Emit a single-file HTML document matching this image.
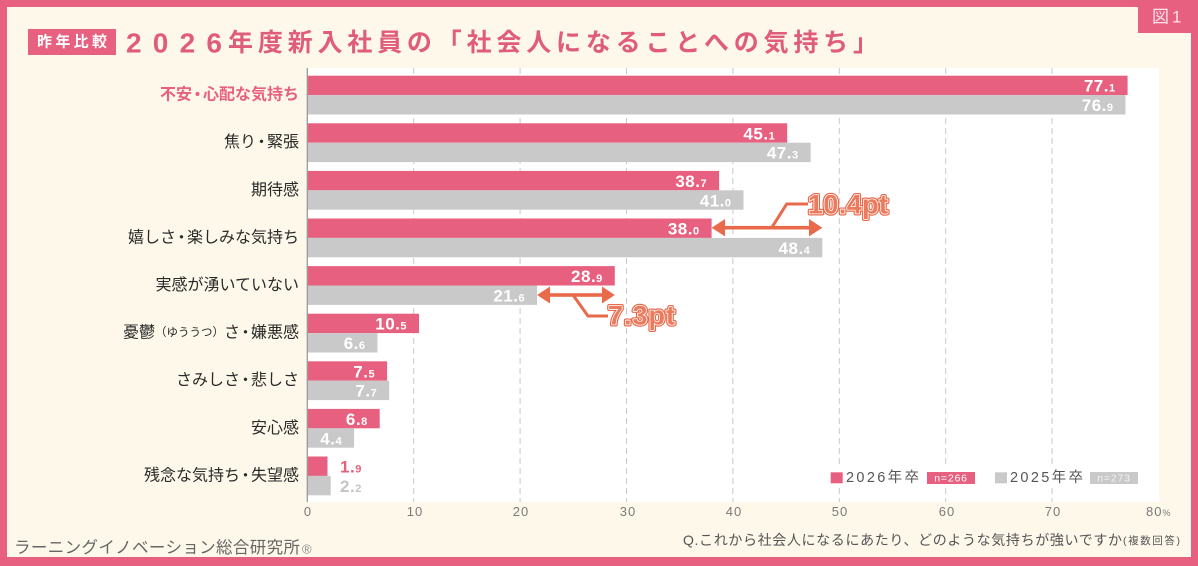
<!DOCTYPE html>
<html><head><meta charset="utf-8"><style>
html,body{margin:0;padding:0;background:#e8607f;}
svg{display:block;}
</style></head><body>
<svg width="1198" height="566" viewBox="0 0 1198 566" xmlns="http://www.w3.org/2000/svg" font-family="'Liberation Sans','Noto Sans CJK JP',sans-serif">
<rect x="0" y="0" width="1198" height="566" fill="#e8607f"/>
<rect x="7" y="7" width="1184" height="550" fill="#fdf8ea"/>
<!-- tab -->
<rect x="1138" y="0" width="60" height="33" fill="#e8607f"/>
<text x="1152" y="17" font-size="17" fill="#fbe3ea" dominant-baseline="central" letter-spacing="3">図1</text>
<!-- badge -->
<rect x="28" y="29" width="88" height="26" fill="#e8607f"/>
<text x="37" y="42" font-size="15" font-weight="700" fill="#fff" dominant-baseline="central" textLength="70" lengthAdjust="spacing">昨年比較</text>
<!-- title -->
<text x="126" y="43" font-size="28" font-weight="700" fill="#e05c7b" dominant-baseline="central" textLength="96" lengthAdjust="spacing">2026</text>
<text x="228" y="43" font-size="25" font-weight="700" fill="#e05c7b" dominant-baseline="central" textLength="650" lengthAdjust="spacing">年度新入社員の「社会人になることへの気持ち」</text>

<!-- plot area -->
<rect x="307" y="68" width="852" height="434" fill="#ffffff"/>
<g stroke="#c8c8c8" stroke-width="1" stroke-dasharray="6 4">
<line x1="413.7" y1="68" x2="413.7" y2="502"/>
<line x1="520.1" y1="68" x2="520.1" y2="502"/>
<line x1="626.5" y1="68" x2="626.5" y2="502"/>
<line x1="732.9" y1="68" x2="732.9" y2="502"/>
<line x1="839.3" y1="68" x2="839.3" y2="502"/>
<line x1="945.7" y1="68" x2="945.7" y2="502"/>
<line x1="1052.1" y1="68" x2="1052.1" y2="502"/>
</g>

<!-- bars -->
<g fill="#e8607f">
<rect x="307.3" y="75.7" width="820.3" height="19.4"/>
<rect x="307.3" y="123.3" width="479.9" height="19.4"/>
<rect x="307.3" y="170.9" width="411.8" height="19.4"/>
<rect x="307.3" y="218.5" width="404.3" height="19.4"/>
<rect x="307.3" y="266.1" width="307.5" height="19.4"/>
<rect x="307.3" y="313.7" width="111.7" height="19.4"/>
<rect x="307.3" y="361.3" width="79.8" height="19.4"/>
<rect x="307.3" y="408.9" width="72.4" height="19.4"/>
<rect x="307.3" y="456.5" width="20.2" height="19.4"/>
</g>
<g fill="#c9c9c9">
<rect x="307.3" y="95.1" width="818.2" height="19.4"/>
<rect x="307.3" y="142.7" width="503.3" height="19.4"/>
<rect x="307.3" y="190.3" width="436.2" height="19.4"/>
<rect x="307.3" y="237.9" width="515.0" height="19.4"/>
<rect x="307.3" y="285.5" width="229.8" height="19.4"/>
<rect x="307.3" y="333.1" width="70.2" height="19.4"/>
<rect x="307.3" y="380.7" width="81.9" height="19.4"/>
<rect x="307.3" y="428.3" width="46.8" height="19.4"/>
<rect x="307.3" y="475.9" width="23.4" height="19.4"/>
</g>
<line x1="307.3" y1="68" x2="307.3" y2="502" stroke="#9a9a9a" stroke-width="1.3"/>

<!-- value labels -->
<g font-family="'Liberation Sans',sans-serif" font-weight="700" fill="#ffffff" font-size="17" text-anchor="end" letter-spacing="0.5">
<text x="1115.6" y="91.7">77.<tspan font-size="11">1</tspan></text>
<text x="1113.5" y="111.1">76.<tspan font-size="11">9</tspan></text>
<text x="775.2" y="139.3">45.<tspan font-size="11">1</tspan></text>
<text x="798.6" y="158.7">47.<tspan font-size="11">3</tspan></text>
<text x="707.1" y="186.9">38.<tspan font-size="11">7</tspan></text>
<text x="731.5" y="206.3">41.<tspan font-size="11">0</tspan></text>
<text x="699.6" y="234.5">38.<tspan font-size="11">0</tspan></text>
<text x="810.3" y="253.9">48.<tspan font-size="11">4</tspan></text>
<text x="602.8" y="282.1">28.<tspan font-size="11">9</tspan></text>
<text x="525.1" y="301.5">21.<tspan font-size="11">6</tspan></text>
<text x="407" y="329.7">10.<tspan font-size="11">5</tspan></text>
<text x="365.5" y="349.1">6.<tspan font-size="11">6</tspan></text>
<text x="375.1" y="377.3">7.<tspan font-size="11">5</tspan></text>
<text x="377.2" y="396.7">7.<tspan font-size="11">7</tspan></text>
<text x="367.7" y="424.9">6.<tspan font-size="11">8</tspan></text>
<text x="342.1" y="444.3">4.<tspan font-size="11">4</tspan></text>
</g>
<g font-family="'Liberation Sans',sans-serif" font-weight="700" font-size="17" letter-spacing="0.5">
<text x="340" y="472.5" fill="#e8607f">1.<tspan font-size="11">9</tspan></text>
<text x="340" y="491.9" fill="#c4c4c4">2.<tspan font-size="11">2</tspan></text>
</g>

<!-- category labels -->
<g font-size="16" text-anchor="end" dominant-baseline="central" fill="#2a2a2a">
<text x="299" y="95.1" fill="#e8607f" font-weight="700">不安<tspan dx="-2.5" letter-spacing="-2.5">・</tspan>心配な気持ち</text>
<text x="299" y="142.7">焦り<tspan dx="-2.5" letter-spacing="-2.5">・</tspan>緊張</text>
<text x="299" y="190.3">期待感</text>
<text x="299" y="237.9">嬉しさ<tspan dx="-2.5" letter-spacing="-2.5">・</tspan>楽しみな気持ち</text>
<text x="299" y="285.5">実感が湧いていない</text>
<text x="299" y="333.1">憂鬱<tspan font-size="11.5">（ゆううつ）</tspan>さ<tspan dx="-2.5" letter-spacing="-2.5">・</tspan>嫌悪感</text>
<text x="299" y="380.7">さみしさ<tspan dx="-2.5" letter-spacing="-2.5">・</tspan>悲しさ</text>
<text x="299" y="428.3">安心感</text>
<text x="299" y="475.9">残念な気持ち<tspan dx="-2.5" letter-spacing="-2.5">・</tspan>失望感</text>
</g>

<!-- tick labels -->
<g font-family="'Liberation Sans',sans-serif" font-size="13" fill="#7a7a7a" text-anchor="middle" letter-spacing="1">
<text x="308" y="516">0</text>
<text x="415" y="516">10</text>
<text x="521" y="516">20</text>
<text x="628" y="516">30</text>
<text x="734" y="516">40</text>
<text x="840" y="516">50</text>
<text x="947" y="516">60</text>
<text x="1053" y="516">70</text>
<text x="1146" y="516" text-anchor="start">80<tspan font-size="9">%</tspan></text>
</g>

<!-- legend -->
<rect x="828" y="467" width="314" height="21" fill="#ffffff"/>
<rect x="830.7" y="472.3" width="12" height="11" fill="#e8607f"/>
<text x="846" y="478" font-size="14.5" fill="#555" dominant-baseline="central" textLength="73" lengthAdjust="spacing">2026年卒</text>
<rect x="927" y="472" width="48" height="12" fill="#e8607f"/>
<text x="951" y="478.3" font-size="10.5" fill="#fff" text-anchor="middle" dominant-baseline="central" letter-spacing="0.8">n=266</text>
<rect x="995" y="472.3" width="12" height="11" fill="#c9c9c9"/>
<text x="1010" y="478" font-size="14.5" fill="#555" dominant-baseline="central" textLength="73" lengthAdjust="spacing">2025年卒</text>
<rect x="1090" y="472" width="48" height="12" fill="#c9c9c9"/>
<text x="1114" y="478.3" font-size="10.5" fill="#f2f2f2" text-anchor="middle" dominant-baseline="central" letter-spacing="0.8">n=273</text>

<!-- annotations -->
<g fill="#e9694b" stroke="none">
<rect x="722" y="225.9" width="90" height="3.6"/>
<polygon points="711.7,227.7 725,219 725,236.4"/>
<polygon points="822.3,227.7 809,219 809,236.4"/>
<rect x="548" y="293.2" width="56" height="3.6"/>
<polygon points="537.1,295 550,286.5 550,303.5"/>
<polygon points="614.8,295 602,286.5 602,303.5"/>
</g>
<polyline points="771.7,227.7 786.7,204 808,204" fill="none" stroke="#e9694b" stroke-width="3"/>
<polyline points="573,295 588,316 608,316" fill="none" stroke="#e9694b" stroke-width="3"/>
<g font-family="'Liberation Sans',sans-serif" font-weight="700" font-size="27">
<text x="808" y="213.5" textLength="80" lengthAdjust="spacing" fill="#e9694b" stroke="#e9694b" stroke-width="4" stroke-linejoin="round">10.4pt</text>
<text x="808" y="213.5" textLength="80" lengthAdjust="spacing" fill="#e9694b" stroke="#ffffff" stroke-width="1.6" stroke-linejoin="round">10.4pt</text>
<text x="808" y="213.5" textLength="80" lengthAdjust="spacing" fill="#ec7a5c">10.4pt</text>
<text x="608" y="324.5" textLength="67" lengthAdjust="spacing" fill="#e9694b" stroke="#e9694b" stroke-width="4" stroke-linejoin="round">7.3pt</text>
<text x="608" y="324.5" textLength="67" lengthAdjust="spacing" fill="#e9694b" stroke="#ffffff" stroke-width="1.6" stroke-linejoin="round">7.3pt</text>
<text x="608" y="324.5" textLength="67" lengthAdjust="spacing" fill="#ec7a5c">7.3pt</text>
</g>

<!-- footer -->
<text x="14" y="548" font-size="16.5" fill="#666" dominant-baseline="central" textLength="286" lengthAdjust="spacing">ラーニングイノベーション総合研究所</text>
<text x="302" y="549" font-size="13" fill="#888" dominant-baseline="central">®</text>
<text x="683" y="540" font-size="14" fill="#555" dominant-baseline="central" textLength="439" lengthAdjust="spacing">Q.これから社会人になるにあたり、どのような気持ちが強いですか</text>
<text x="1123" y="541" font-size="10.5" fill="#555" dominant-baseline="central" textLength="57" lengthAdjust="spacing">(複数回答)</text>
</svg>
</body></html>
